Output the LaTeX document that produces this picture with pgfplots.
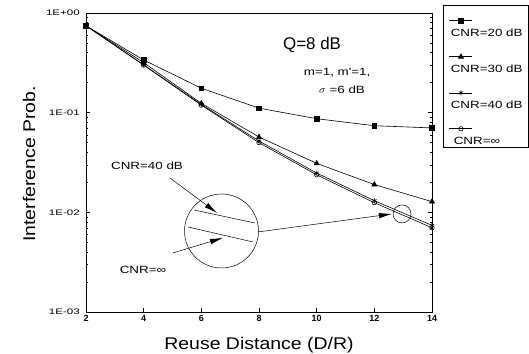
\documentclass[border=0pt]{standalone}
\usepackage{fontspec}
\setmainfont{Liberation Sans}
\newfontfamily\widefont[FakeStretch=1.28]{Liberation Sans}
\newfontfamily\labelfont[FakeStretch=1.15]{Liberation Sans}
\usepackage{graphicx}
\usepackage{pgfplots}
\pgfplotsset{compat=1.18}
\usetikzlibrary{arrows.meta}

% interference probability versus reuse distance
\pgfplotstableread{
D     p20    p30     p40     pinf
2     0.745  0.745   0.745   0.745
4     0.338  0.318   0.302   0.300
6     0.176  0.124   0.121   0.119
8     0.111  0.057   0.052   0.050
10    0.087  0.031   0.0248  0.0238
12    0.074  0.0190  0.0131  0.0125
14    0.0703 0.0128  0.0074  0.0070
}\interf

% wide, small tick label text
\newcommand\tl[1]{\scalebox{1.45}[1]{\fontsize{8}{9}\selectfont #1}}

\begin{document}
\begin{tikzpicture}
\useasboundingbox (-86bp,-42bp) rectangle (443bp,312bp);
\begin{axis}[
  at={(0,0)}, anchor=south west,
  scale only axis, width=346bp, height=299bp,
  ymode=log, xmin=2, xmax=14, ymin=1e-3, ymax=1,
  xtick={2,4,...,14}, xtick pos=left, ytick pos=both,
  ytick={1e-3,1e-2,1e-1,1},
  yticklabels={\tl{1E-03},\tl{1E-02},\tl{1E-01},\tl{1E+00}},
  /pgf/number format/assume math mode=true,
  tick align=inside, major tick length=4bp, minor tick length=2.5bp,
  tick style={black, line width=0.5bp},
  axis line style={line width=0.6bp},
  yticklabel style={inner xsep=6bp},
  xticklabel style={font=\bfseries\fontsize{9}{10}\selectfont},
  xlabel={Reuse Distance (D/R)},
  ylabel={Interference Prob.},
  xlabel style={at={(rel axis cs:0.5,-0.127)}, anchor=base,
                font=\labelfont\fontsize{17}{20}\selectfont},
  ylabel style={at={(rel axis cs:-0.147,0.495)}, anchor=base,
                font=\labelfont\fontsize{17}{20}\selectfont},
  clip=false,
  every axis plot/.append style={black, line width=0.6bp},
  legend image code/.code={%
    \draw[mark repeat=2, mark phase=2, #1, overlay]
      plot coordinates {(0bp,13bp) (11.5bp,13bp) (23bp,13bp)};
    \path (0bp,0bp);},
  legend cell align=left,
  legend style={at={(rel axis cs:1.049,0.95)}, anchor=north west,
    draw=none, fill=none, inner xsep=0pt, inner ysep=0pt,
    row sep=25bp, /tikz/column sep=0pt,
    nodes={inner sep=1bp},
    font=\widefont\fontsize{10.5}{11}\selectfont},
]
\addplot[mark=square*, mark size=2.3bp] table[x=D, y=p20] {\interf};
\addlegendentry{CNR=20 dB}
\addplot[mark=triangle*, mark size=2.9bp] table[x=D, y=p30] {\interf};
\addlegendentry{CNR=30 dB}
\addplot[mark=asterisk, mark size=2.5bp] table[x=D, y=p40] {\interf};
\addlegendentry{CNR=40 dB}
\addplot[mark=o, mark size=2.2bp] table[x=D, y=pinf] {\interf};
\addlegendentry{\hspace{3bp}CNR=∞}

% frame round the key
\draw[line width=0.6bp] (rel axis cs:1.0318,1.0268) rectangle (rel axis cs:1.2775,0.5518);

% parameter notes
\node at (axis cs:9.84,0.477) {\fontsize{17}{19}\selectfont Q=8 dB};
\node at (axis cs:10.71,0.25) {\widefont\fontsize{10.5}{12}\selectfont m=1, m'=1,};
\node at (axis cs:10.88,0.169) {\widefont\fontsize{10.5}{12}\selectfont $\sigma$ =6 dB};

% magnified detail near D/R = 13
\coordinate (bigc) at (axis cs:6.70,0.0065);
\draw[line width=0.5bp] (bigc) circle[radius=37bp];
\draw[line width=0.5bp] (bigc) ++(-27.5bp,21bp) -- ++(61bp,-13bp);
\draw[line width=0.5bp] (bigc) ++(-33.5bp,4bp) -- ++(65bp,-15bp);
\draw[line width=0.5bp] (axis cs:12.96,0.00964) circle[radius=9bp];
\draw[line width=0.5bp, -{Latex[length=13bp,width=5.5bp]}]
  (axis cs:7.97,0.00636) -- (axis cs:12.61,0.00964);
\draw[line width=0.5bp, -{Latex[length=13bp,width=5.5bp]}]
  (axis cs:4.914,0.0221) -- (axis cs:6.544,0.00986);
\draw[line width=0.5bp, -{Latex[length=13bp,width=5.5bp]}]
  (axis cs:5.018,0.00392) -- (axis cs:6.752,0.00554);
\node at (axis cs:4.116,0.0292) {\widefont\fontsize{10.5}{12}\selectfont CNR=40 dB};
\node at (axis cs:3.977,0.00264) {\widefont\fontsize{10.5}{12}\selectfont CNR=∞};
\end{axis}
\end{tikzpicture}
\end{document}
